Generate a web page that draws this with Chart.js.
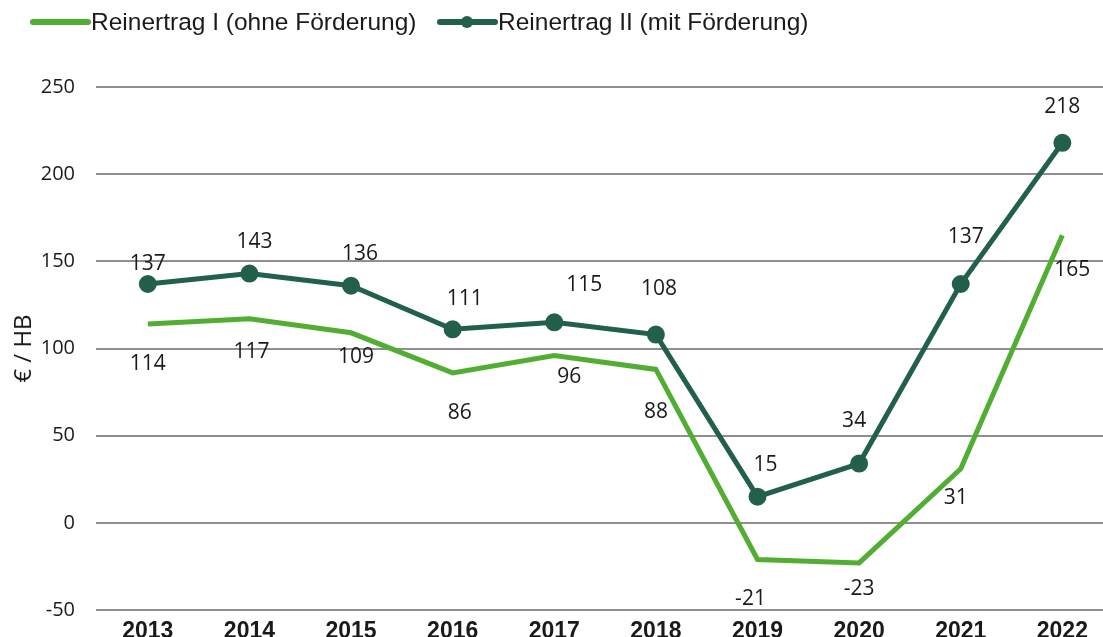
<!DOCTYPE html>
<html>
<head>
<meta charset="utf-8">
<script src="https://cdn.jsdelivr.net/npm/chart.js@4/dist/chart.umd.min.js"></script>
<style>
    html, body { margin: 0; padding: 0; background: #fff; overflow: hidden; }
    canvas { display: block; }
</style>
</head>
<body>
<canvas id="chart" width="1103" height="637"></canvas>
<script>
// Data
const years = ['2013', '2014', '2015', '2016', '2017', '2018', '2019', '2020', '2021', '2022'];
const reinertragOhne = [114, 117, 109, 86, 96, 88, -21, -23, 31, 165];
const reinertragMit = [137, 143, 136, 111, 115, 108, 15, 34, 137, 218];
const seriesNames = ['Reinertrag I (ohne Förderung)', 'Reinertrag II (mit Förderung)'];
const yTicks = [-50, 0, 50, 100, 150, 200, 250];

// Label placement (pixel offsets from each point), layout only
const labelShiftOhne = [[0, 40], [2, 33], [5, 24], [7, 40], [15, 22], [0, 43], [-7, 40], [0, 26], [-5, 29], [10, 35]];
const labelShiftMit = [[0, -20], [5, -32], [9, -32], [12, -30], [30, -37], [3, -46], [8, -32], [-5, -43], [5, -47], [0, -36]];

const colors = {
    light: '#52ae32',
    dark: '#23604b',
    grid: '#8f8f8f',
    text: '#1a1a1a'
};

const narrowFont = "'Liberation Sans Narrow', 'Arial Narrow', sans-serif";
const plainFont = "'Open Sans', 'Noto Sans', sans-serif";

// year index as x, so the axis can run slightly past the last year like the source
const toPoints = values => values.map((v, i) => ({ x: i, y: v }));

// Draws value labels next to each point
const valueLabels = {
    id: 'valueLabels',
    afterDatasetsDraw(chart) {
        const ctx = chart.ctx;
        const shifts = [labelShiftOhne, labelShiftMit];
        const sources = [reinertragOhne, reinertragMit];
        ctx.save();
        ctx.font = '21px ' + plainFont;
        ctx.fillStyle = colors.text;
        ctx.textAlign = 'center';
        ctx.textBaseline = 'middle';
        chart.data.datasets.forEach((ds, di) => {
            const meta = chart.getDatasetMeta(di);
            meta.data.forEach((pt, i) => {
                const s = shifts[di][i];
                ctx.fillText(String(sources[di][i]), pt.x + s[0], pt.y + s[1]);
            });
        });
        ctx.restore();
    }
};

// Legend with line samples, drawn at top
const lineLegend = {
    id: 'lineLegend',
    afterDraw(chart) {
        const ctx = chart.ctx;
        const items = [
            { x: 33, color: colors.light, dot: false, text: seriesNames[0] },
            { x: 440, color: colors.dark, dot: true, text: seriesNames[1] }
        ];
        const y = 22;
        ctx.save();
        items.forEach(it => {
            ctx.strokeStyle = it.color;
            ctx.lineWidth = 6;
            ctx.lineCap = 'round';
            ctx.beginPath();
            ctx.moveTo(it.x, y);
            ctx.lineTo(it.x + 55, y);
            ctx.stroke();
            if (it.dot) {
                ctx.fillStyle = it.color;
                ctx.beginPath();
                ctx.arc(it.x + 27, y, 6, 0, Math.PI * 2);
                ctx.fill();
            }
            ctx.fillStyle = colors.text;
            ctx.font = '24.5px ' + narrowFont;
            ctx.textAlign = 'left';
            ctx.textBaseline = 'middle';
            ctx.fillText(it.text, it.x + 58, y + 1);
        });
        ctx.restore();
    }
};

const chartData = {
    datasets: [
        {
            label: seriesNames[0],
            data: toPoints(reinertragOhne),
            borderColor: colors.light,
            backgroundColor: colors.light,
            borderWidth: 5,
            pointRadius: 0,
            tension: 0
        },
        {
            label: seriesNames[1],
            data: toPoints(reinertragMit),
            borderColor: colors.dark,
            backgroundColor: colors.dark,
            borderWidth: 5,
            pointRadius: 6.5,
            pointHoverRadius: 6.5,
            tension: 0
        }
    ]
};

const chartOptions = {
    responsive: false,
    animation: false,
    layout: {
        autoPadding: false,
        padding: { top: 87, right: 0, left: 0, bottom: 0 }
    },
    plugins: {
        legend: { display: false },
        tooltip: { enabled: false },
        title: { display: false }
    },
    scales: {
        x: {
            type: 'linear',
            min: -0.51,
            max: 9.40,
            grid: { display: false },
            border: { display: false },
            afterBuildTicks(scale) {
                scale.ticks = years.map((y, i) => ({ value: i }));
            },
            afterFit(scale) {
                scale.height = 27;
                scale.paddingLeft = 0;
                scale.paddingRight = 0;
            },
            ticks: {
                color: colors.text,
                padding: 0,
                maxRotation: 0,
                autoSkip: false,
                callback: value => years[value],
                font: { family: narrowFont, size: 23, weight: 'bold' }
            }
        },
        y: {
            min: -50,
            max: 250,
            afterFit(scale) {
                scale.width = 96;
                scale.paddingBottom = 0;
            },
            afterBuildTicks(scale) {
                scale.ticks = yTicks.map(v => ({ value: v }));
            },
            border: { display: false },
            grid: {
                color: colors.grid,
                lineWidth: 2,
                drawTicks: false
            },
            ticks: {
                color: colors.text,
                padding: 21,
                font: { family: plainFont, size: 20 }
            },
            title: {
                display: true,
                text: '€ / HB',
                color: colors.text,
                padding: { top: 10, bottom: 0 },
                font: { family: plainFont, size: 24 }
            }
        }
    }
};

Promise.all([
    document.fonts.load('20px "Open Sans"'),
    document.fonts.load('24px "Liberation Sans Narrow"'),
    document.fonts.load('bold 23px "Liberation Sans Narrow"')
]).catch(() => {}).then(() => {
    new Chart(document.getElementById('chart'), {
        type: 'line',
        data: chartData,
        options: chartOptions,
        plugins: [valueLabels, lineLegend]
    });
});
</script>
</body>
</html>
